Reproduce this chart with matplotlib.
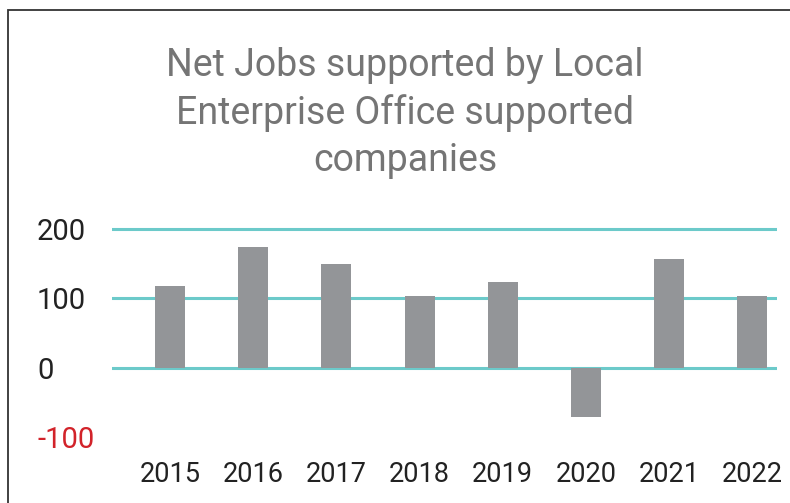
import matplotlib.pyplot as plt
from matplotlib.patches import Rectangle

years = ["2015", "2016", "2017", "2018", "2019", "2020", "2021", "2022"]
net_jobs = [118, 174, 150, 104, 124, -70, 157, 104]
y_ticks = [-100, 0, 100, 200]
y_labels = ["-100", "0", "100", "200"]

plt.rcParams['font.family'] = ['Roboto', 'DejaVu Sans']

fig = plt.figure(figsize=(7.9, 5.03), dpi=100)
ax = fig.add_axes([112/790, 1 - 437.5/503, (777 - 112)/790, (437.5 - 225.5)/503])

# grid lines (none at -100)
for v in y_ticks[1:]:
    ax.axhline(v, color="#6ccaca", lw=2.2, zorder=1)

x = range(len(years))
ax.bar(x, net_jobs, width=0.36, color="#939598", zorder=2)

ax.set_xlim(-0.7, 7.3)
ax.set_ylim(-100, 205)
ax.set_xticks(list(x))
ax.set_xticklabels(years, fontsize=19.5, color="#222222")
ax.set_yticks(y_ticks)
ax.set_yticklabels(y_labels, fontsize=21, color="#222222", ha="left")
ax.tick_params(axis="y", length=0, pad=54)
ax.tick_params(axis="x", length=0, pad=17)
ax.get_yticklabels()[0].set_color("#d2232a")
for s in ax.spines.values():
    s.set_visible(False)

fig.text(405/790, 1 - 113/503,
         "Net Jobs supported by Local\nEnterprise Office supported\ncompanies",
         ha="center", va="center", fontsize=27, color="#757575", linespacing=1.33)

# outer border
fig.add_artist(Rectangle((8/790, -0.2), 1.5, 1.2 - 10/503, transform=fig.transFigure,
                         fill=False, ec="#333333", lw=1.3, clip_on=False))

fig.savefig("out.png", dpi=100)
